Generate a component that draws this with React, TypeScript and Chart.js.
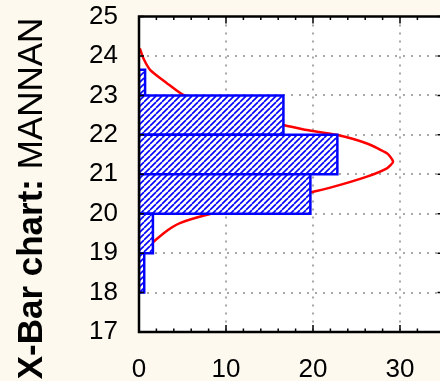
import React, { useEffect, useRef } from 'react';
import { Chart, registerables } from 'chart.js';

Chart.register(...registerables);

// ---- data ----
const binLow = [18, 19, 20, 21, 22, 23];
const binHigh = [19, 20, 21, 22, 23, 23.65];
const counts = [0.6, 1.6, 19.7, 22.8, 16.6, 0.7];

const curveY = [24.19, 23.94, 23.64, 23.31, 23.01, 22.76, 22.46, 22.25, 22.12, 22.0, 21.78, 21.53, 21.32, 21.15, 20.94, 20.68, 20.52, 20.26, 20.01, 19.76, 19.5, 19.16, 18.95, 18.6, 18.37];
const curveX = [0.1, 0.5, 1.3, 3.2, 5.1, 8.2, 12.0, 16.6, 19.3, 22.7, 26.2, 28.5, 29.2, 28.5, 26.2, 22.3, 19.3, 13.9, 8.5, 4.7, 2.8, 1.1, 0.5, 0.35, 0.35];

const xMin = 0;
const xMax = 35;
const xMinorStep = 2;
const xLabelStep = 10;
const yMin = 17;
const yMax = 25;
const yStep = 1;

const titleBold = 'X-Bar chart:';
const titleRest = ' MANNAN';

const FONT = '"Liberation Sans", Arial, sans-serif';
const BG = '#FDF9EF';

function makeHatch(): CanvasPattern | string {
  const s = 6;
  const c = document.createElement('canvas');
  c.width = s;
  c.height = s;
  const g = c.getContext('2d');
  if (!g) return '#8080ff';
  g.fillStyle = '#ffffff';
  g.fillRect(0, 0, s, s);
  g.strokeStyle = '#0000ff';
  g.lineWidth = 1.6;
  for (let k = -1; k <= 1; k++) {
    g.beginPath();
    g.moveTo(k * s, s);
    g.lineTo(k * s + s, 0);
    g.stroke();
  }
  const p = g.createPattern(c, 'repeat');
  return p || '#8080ff';
}

const framePlugin = {
  id: 'frame',
  beforeDraw(chart: any) {
    const { ctx, chartArea: a } = chart;
    ctx.save();
    ctx.fillStyle = '#ffffff';
    ctx.fillRect(a.left, a.top, a.right - a.left, a.bottom - a.top);
    ctx.restore();
  },
  afterDatasetsDraw(chart: any) {
    const { ctx, chartArea: a, scales } = chart;
    const x = scales.x;
    const y = scales.y;
    ctx.save();
    ctx.strokeStyle = '#000000';
    ctx.lineWidth = 1.5;
    ctx.beginPath();
    x.ticks.forEach((t: any) => {
      const px = x.getPixelForValue(t.value);
      const len = t.value % xLabelStep === 0 ? 7 : 3.5;
      ctx.moveTo(px, a.bottom);
      ctx.lineTo(px, a.bottom - len);
      ctx.moveTo(px, a.top);
      ctx.lineTo(px, a.top + len);
    });
    y.ticks.forEach((t: any) => {
      const py = y.getPixelForValue(t.value);
      ctx.moveTo(a.left, py);
      ctx.lineTo(a.left + 5, py);
      ctx.moveTo(a.right, py);
      ctx.lineTo(a.right - 6, py);
    });
    ctx.stroke();
    ctx.lineWidth = 2.5;
    ctx.strokeRect(a.left, a.top, a.right - a.left, a.bottom - a.top);
    ctx.restore();
  },
  afterDraw(chart: any) {
    const { ctx } = chart;
    ctx.save();
    ctx.fillStyle = '#000000';
    ctx.textBaseline = 'alphabetic';
    ctx.textAlign = 'left';
    const size = 35;
    ctx.font = `bold ${size}px ${FONT}`;
    const wb = ctx.measureText(titleBold).width;
    ctx.font = `${size}px ${FONT}`;
    const wr = ctx.measureText(titleRest).width;
    const total = wb + wr;
    ctx.translate(42, 198.5);
    ctx.rotate(-Math.PI / 2);
    ctx.font = `bold ${size}px ${FONT}`;
    ctx.fillText(titleBold, -total / 2, 0);
    ctx.font = `${size}px ${FONT}`;
    ctx.fillText(titleRest, -total / 2 + wb, 0);
    ctx.restore();
  },
};

export default function App() {
  const ref = useRef<HTMLCanvasElement | null>(null);

  useEffect(() => {
    if (!ref.current) return;
    const hatch = makeHatch();
    const barSets = counts.map((v, i) => ({
      type: 'line' as const,
      data: [
        { x: 0, y: binLow[i] },
        { x: v, y: binLow[i] },
        { x: v, y: binHigh[i] },
        { x: 0, y: binHigh[i] },
        { x: 0, y: binLow[i] },
      ],
      borderColor: '#0000ff',
      borderWidth: 2.5,
      backgroundColor: hatch,
      fill: 'shape',
      pointRadius: 0,
      tension: 0,
    }));
    const curve = {
      type: 'line' as const,
      data: curveY.map((yy, i) => ({ x: curveX[i], y: yy })),
      borderColor: '#ff0000',
      borderWidth: 2.5,
      fill: false,
      pointRadius: 0,
      tension: 0.2,
    };
    const chart = new Chart(ref.current, {
      type: 'line',
      data: { datasets: [...barSets, curve] as any },
      plugins: [framePlugin],
      options: {
        animation: false,
        responsive: false,
        layout: { padding: { left: 0, top: 16.5, right: 26.5, bottom: 0 } },
        plugins: { legend: { display: false }, tooltip: { enabled: false } },
        scales: {
          x: {
            type: 'linear',
            min: xMin,
            max: xMax,
            afterFit: (s: any) => {
              s.height = 49;
              s.paddingLeft = 0;
              s.paddingRight = 0;
            },
            ticks: {
              stepSize: xMinorStep,
              autoSkip: false,
              maxRotation: 0,
              padding: 22,
              color: '#000',
              font: { family: FONT, size: 26 },
              callback: (v: any) => (Number(v) % xLabelStep === 0 ? String(v) : ''),
            },
            grid: {
              drawTicks: false,
              lineWidth: 2,
              color: (c: any) => {
                const v = c.tick ? c.tick.value : 0;
                return v % xLabelStep === 0 && v > xMin && v < xMax ? '#a8a8a8' : 'rgba(0,0,0,0)';
              },
            },
            border: { display: false, dash: [2, 6] },
          },
          y: {
            type: 'linear',
            min: yMin,
            max: yMax,
            afterFit: (s: any) => {
              s.width = 139;
              s.paddingTop = 0;
              s.paddingBottom = 0;
            },
            ticks: {
              stepSize: yStep,
              padding: 21,
              color: '#000',
              font: { family: FONT, size: 26 },
            },
            grid: {
              drawTicks: false,
              lineWidth: 2,
              color: (c: any) => {
                const v = c.tick ? c.tick.value : 0;
                return v > yMin && v < yMax ? '#a8a8a8' : 'rgba(0,0,0,0)';
              },
            },
            border: { display: false, dash: [2, 6] },
          },
        },
      } as any,
    });
    return () => chart.destroy();
  }, []);

  return (
    <div
      style={{
        position: 'fixed',
        left: 0,
        top: 0,
        width: 440,
        height: 381,
        overflow: 'hidden',
        background: BG,
      }}
    >
      <canvas ref={ref} width={470} height={381} style={{ display: 'block' }} />
    </div>
  );
}
